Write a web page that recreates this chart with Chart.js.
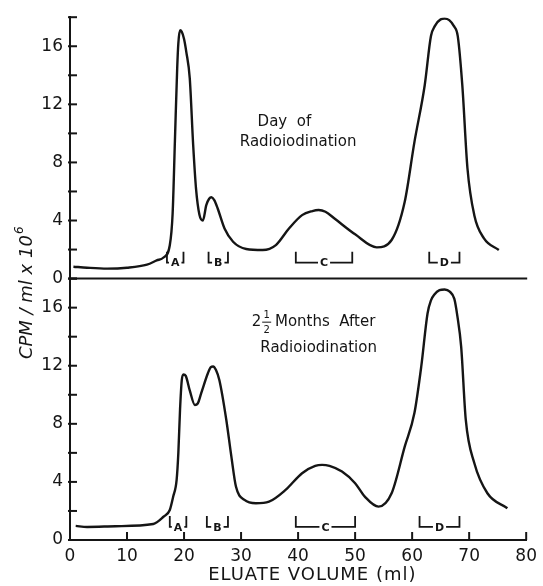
<!DOCTYPE html>
<html>
<head>
<meta charset="utf-8">
<script src="https://cdn.jsdelivr.net/npm/chart.js@4.4.1/dist/chart.umd.min.js"></script>
<style>
html, body { margin:0; padding:0; background:#fff; }
#wrap { width:543px; height:586px; }
</style>
</head>
<body>
<div id="wrap"><canvas id="elution" width="543" height="586"></canvas></div>
<script>
// Day of radioiodination (upper panel)
var topVol = [0.6, 3, 6.5, 10, 13.5, 15.2, 16.4, 17.5, 18.0, 18.4, 18.8, 19.0, 19.3, 19.6, 20.0, 20.4, 21.0, 21.6, 22.1, 22.7, 23.3, 23.9, 24.4, 24.8, 25.3, 25.9, 27.1, 28.6, 30.9, 33.8, 36.1, 38.4, 40.7, 42.5, 43.6, 44.8, 46.5, 50.0, 53.8, 56.4, 58.7, 60.4, 62.2, 63.3, 64.0, 65.0, 65.7, 66.5, 67.3, 68.0, 68.8, 69.7, 70.9, 72.6, 75.2];
var topCpm = [0.82, 0.75, 0.69, 0.75, 0.96, 1.25, 1.45, 2.3, 4.5, 9.5, 14.5, 16.2, 17.1, 17.0, 16.5, 15.6, 13.8, 9.2, 6.2, 4.4, 4.0, 5.06, 5.5, 5.6, 5.4, 4.83, 3.45, 2.54, 2.04, 1.97, 2.31, 3.45, 4.37, 4.65, 4.72, 4.6, 4.1, 3.05, 2.15, 2.66, 5.29, 9.4, 13.3, 16.7, 17.4, 17.85, 17.9, 17.8, 17.4, 16.7, 13.3, 7.6, 4.37, 2.77, 1.97];

// 2 1/2 months after (lower panel)
var botVol = [1.0, 3.0, 8, 14.6, 16.4, 17.5, 18.1, 18.7, 19.0, 19.3, 19.6, 19.9, 20.3, 21.0, 21.9, 22.4, 23.0, 24.2, 24.7, 25.1, 25.6, 26.2, 27.4, 28.3, 29.1, 30.6, 32.6, 34.9, 37.8, 40.7, 43.0, 44.2, 45.5, 47.7, 50.0, 51.7, 54.1, 56.4, 58.7, 60.4, 61.6, 62.7, 63.3, 63.9, 64.8, 65.7, 66.6, 67.4, 67.9, 68.6, 69.4, 70.9, 73.2, 76.7];
var botCpm = [0.97, 0.9, 0.95, 1.1, 1.6, 2.07, 3.0, 4.14, 6.0, 9.0, 11.0, 11.4, 11.3, 10.3, 9.3, 9.4, 10.1, 11.5, 11.9, 11.95, 11.7, 11.0, 8.3, 5.74, 3.68, 2.76, 2.53, 2.64, 3.45, 4.6, 5.1, 5.17, 5.1, 4.71, 3.91, 2.99, 2.30, 3.22, 6.43, 8.74, 11.95, 15.6, 16.5, 16.9, 17.2, 17.25, 17.1, 16.6, 15.5, 13.3, 8.3, 5.3, 3.22, 2.19];

// pooled fractions
var fracNames = ['A', 'B', 'C', 'D'];
var topFracFrom = [17.0, 24.3, 39.6, 63.0];
var topFracTo = [19.9, 27.7, 49.5, 68.3];
var botFracFrom = [17.5, 24.0, 39.6, 61.3];
var botFracTo = [20.4, 27.7, 50.0, 68.3];

var volTicks = [0, 10, 20, 30, 40, 50, 60, 70, 80];
var cpmLabels = [0, 4, 8, 12, 16];

var ink = '#151515';
var face = 'DejaVu Sans';

function pairs(xs, ys){
	var out = [];
	for (var i = 0; i < xs.length; i++) out.push({ x: xs[i], y: ys[i] });
	return out;
}

function bracket(ctx, sx, sy, from, to, name, level){
	var x1 = sx.getPixelForValue(from),
		x2 = sx.getPixelForValue(to),
		xm = (x1 + x2) / 2,
		yb = sy.getPixelForValue(level),
		gap;
	ctx.font = 'bold 11px ' + face;
	gap = ctx.measureText(name).width / 2 + 2;
	ctx.beginPath();
	ctx.moveTo(x1, yb - 11); ctx.lineTo(x1, yb); ctx.lineTo(Math.max(x1, xm - gap), yb);
	ctx.moveTo(Math.min(x2, xm + gap), yb); ctx.lineTo(x2, yb); ctx.lineTo(x2, yb - 11);
	ctx.stroke();
	ctx.textAlign = 'center';
	ctx.textBaseline = 'middle';
	ctx.fillText(name, xm, yb + 1);
}

var decor = {
	id: 'decor',
	afterDraw: function(chart){
		var ctx = chart.ctx,
			sx = chart.scales.x,
			yt = chart.scales.yTop,
			yb = chart.scales.yBot,
			area = chart.chartArea,
			v, p, i;
		ctx.save();
		ctx.strokeStyle = ink;
		ctx.fillStyle = ink;
		ctx.lineWidth = 2;

		// line under the upper panel
		p = yt.getPixelForValue(0);
		ctx.beginPath(); ctx.moveTo(area.left, p); ctx.lineTo(sx.getPixelForValue(80) + 1, p); ctx.stroke();

		// inward ticks
		for (v = 0; v <= 18; v += 2) {
			[yt, yb].forEach(function(s){
				var y = s.getPixelForValue(v);
				ctx.beginPath(); ctx.moveTo(area.left - 2, y); ctx.lineTo(area.left + 7, y); ctx.stroke();
			});
		}
		for (i = 1; i < volTicks.length; i++) {
			p = sx.getPixelForValue(volTicks[i]);
			ctx.beginPath(); ctx.moveTo(p, area.bottom); ctx.lineTo(p, area.bottom - 8); ctx.stroke();
		}

		// fraction brackets
		ctx.lineWidth = 1.8;
		for (i = 0; i < fracNames.length; i++) {
			bracket(ctx, sx, yt, topFracFrom[i], topFracTo[i], fracNames[i], 1.1);
			bracket(ctx, sx, yb, botFracFrom[i], botFracTo[i], fracNames[i], 0.9);
		}

		// x title, a bit spaced out like the original lettering
		ctx.font = '18px ' + face;
		ctx.letterSpacing = '1px';
		ctx.textAlign = 'center';
		ctx.textBaseline = 'middle';
		ctx.fillText('ELUATE VOLUME (ml)', sx.getPixelForValue(42.5), area.bottom + 35);
		ctx.letterSpacing = '0px';

		// panel captions
		ctx.font = '15px ' + face;
		ctx.fillText('Day  of', sx.getPixelForValue(37.6), yt.getPixelForValue(10.8));
		ctx.fillText('Radioiodination', sx.getPixelForValue(40.0), yt.getPixelForValue(9.4));
		ctx.fillText('Radioiodination', sx.getPixelForValue(43.6), yb.getPixelForValue(13.2));

		// "2 1/2 Months After" with a stacked fraction
		var cx = sx.getPixelForValue(42.7), cy = yb.getPixelForValue(15.0),
			rest = ' Months  After',
			wTwo = ctx.measureText('2').width,
			wRest = ctx.measureText(rest).width,
			wFrac = 9,
			x0 = cx - (wTwo + wFrac + wRest) / 2;
		ctx.textAlign = 'left';
		ctx.fillText('2', x0, cy);
		ctx.font = '10px ' + face;
		ctx.textAlign = 'center';
		ctx.fillText('1', x0 + wTwo + wFrac / 2 + 1, cy - 7);
		ctx.fillText('2', x0 + wTwo + wFrac / 2 + 1, cy + 8);
		ctx.lineWidth = 1;
		ctx.beginPath(); ctx.moveTo(x0 + wTwo + 1, cy); ctx.lineTo(x0 + wTwo + wFrac + 1, cy); ctx.stroke();
		ctx.font = '15px ' + face;
		ctx.textAlign = 'left';
		ctx.fillText(rest, x0 + wTwo + wFrac, cy);

		// shared y title
		ctx.translate(27, yb.getPixelForValue(17));
		ctx.rotate(-Math.PI / 2);
		ctx.font = 'italic 18px ' + face;
		ctx.textBaseline = 'middle';
		var t = 'CPM / ml x 10', wt = ctx.measureText(t).width;
		ctx.textAlign = 'left';
		ctx.fillText(t, -(wt + 8) / 2, 0);
		ctx.font = 'italic 12px ' + face;
		ctx.fillText('6', (wt + 8) / 2 - 7, -7);
		ctx.restore();
	}
};

function cpmAxis(weight){
	return {
		type: 'linear',
		position: 'left',
		stack: 'cpm',
		stackWeight: 1,
		weight: weight,
		min: 0,
		max: 18,
		border: { display: true, color: ink, width: 2 },
		grid: { drawOnChartArea: false, drawTicks: false },
		ticks: {
			stepSize: 2,
			autoSkip: false,
			padding: 7,
			color: ink,
			font: { family: face, size: 17 },
			callback: function(v){ return cpmLabels.indexOf(v) > -1 ? String(v) : ''; }
		},
		afterFit: function(s){ s.width = 70; }
	};
}

new Chart(document.getElementById('elution').getContext('2d'), {
	type: 'line',
	data: {
		datasets: [
			{ label: 'Day of Radioiodination', data: pairs(topVol, topCpm), yAxisID: 'yTop' },
			{ label: '2 1/2 Months After Radioiodination', data: pairs(botVol, botCpm), yAxisID: 'yBot' }
		]
	},
	options: {
		responsive: false,
		animation: false,
		layout: { padding: { top: 14, right: 11, left: 0, bottom: 0 } },
		elements: {
			line: { borderColor: ink, borderWidth: 2.4, cubicInterpolationMode: 'monotone', fill: false },
			point: { radius: 0 }
		},
		plugins: { legend: { display: false }, tooltip: { enabled: false } },
		scales: {
			x: {
				type: 'linear',
				min: 0,
				max: 80,
				border: { display: true, color: ink, width: 2 },
				grid: { drawOnChartArea: false, drawTicks: false },
				ticks: { stepSize: 10, padding: 6, color: ink, font: { family: face, size: 17 } },
				title: { display: false, text: 'ELUATE VOLUME (ml)' },
				afterFit: function(s){ s.height = 46; }
			},
			yTop: cpmAxis(1),
			yBot: cpmAxis(0)
		}
	},
	plugins: [decor]
});
</script>
</body>
</html>
